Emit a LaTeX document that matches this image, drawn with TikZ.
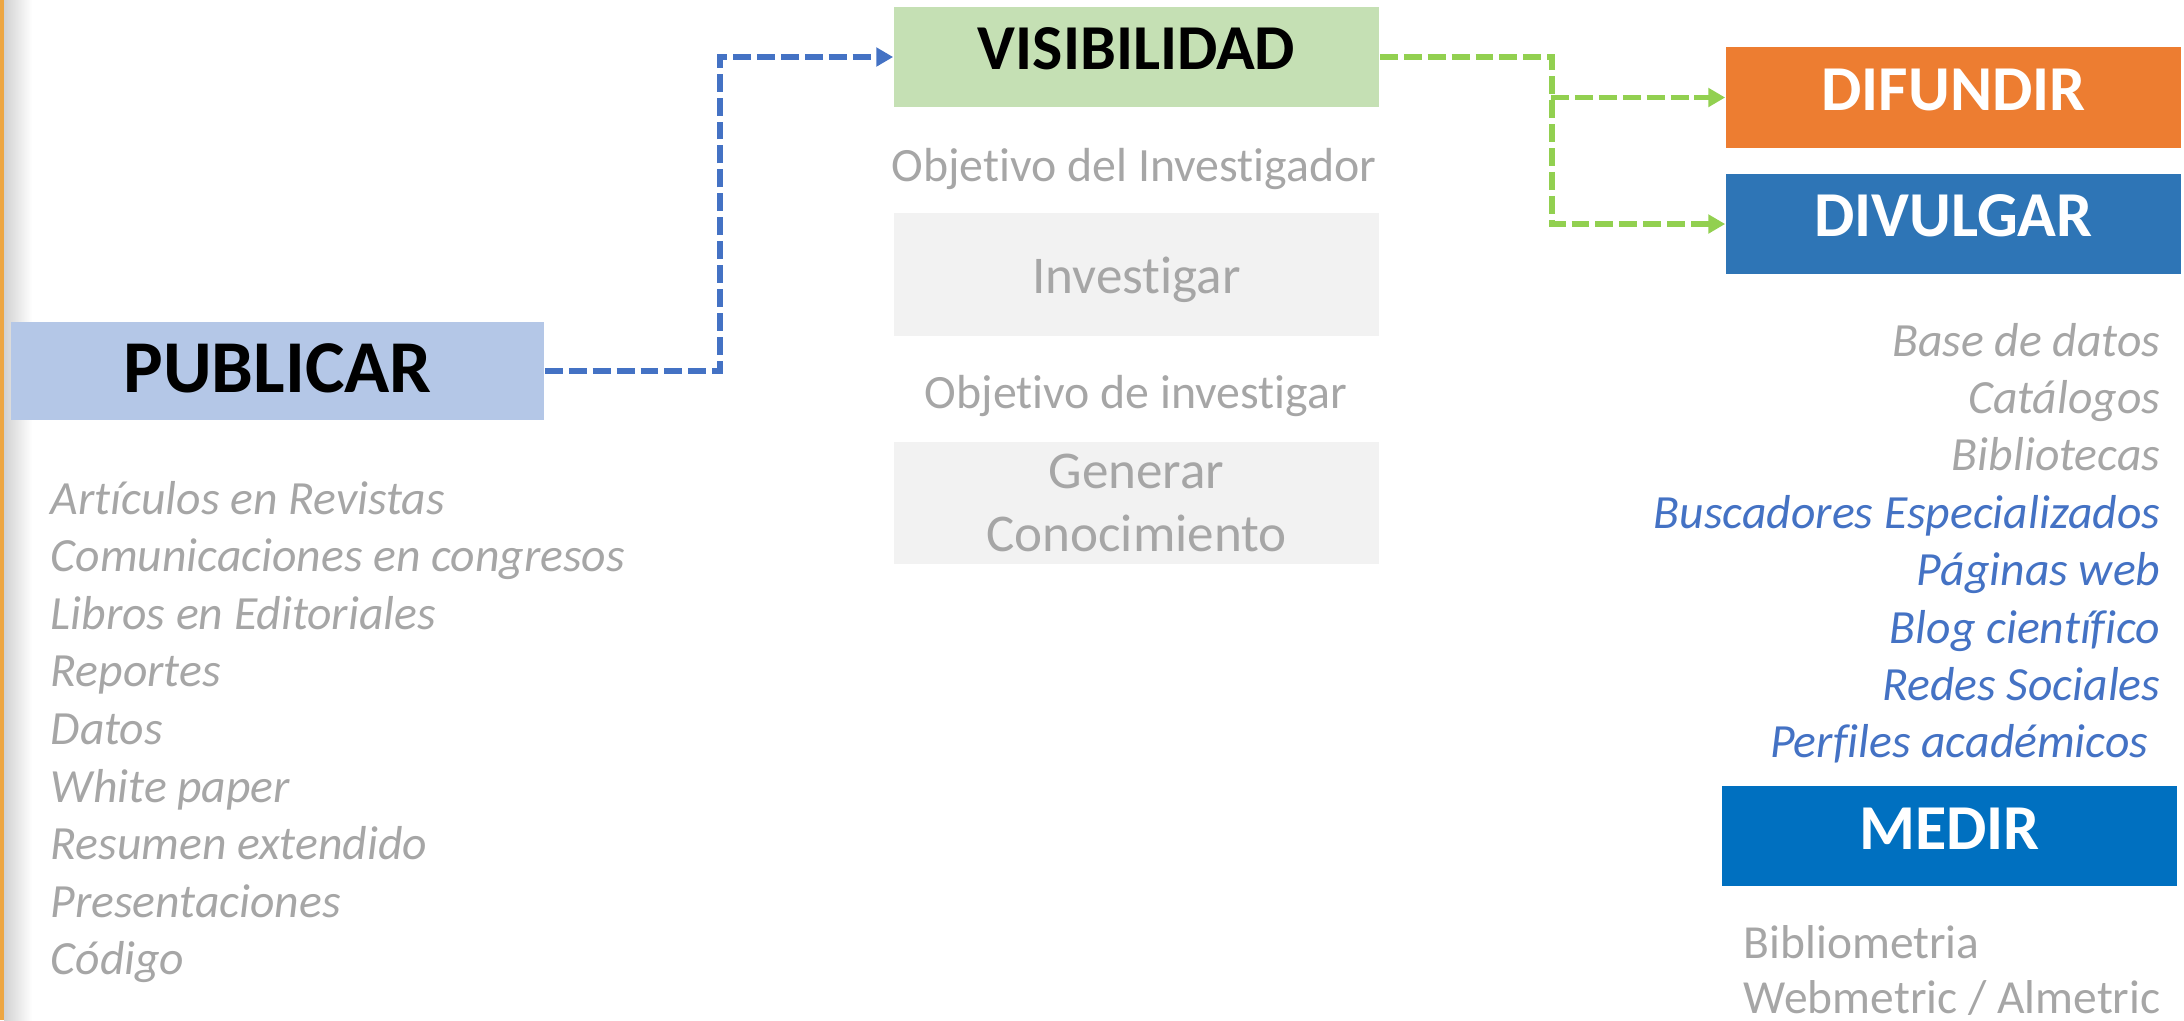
\documentclass[tikz,border=0pt]{standalone}
\usepackage{fontspec}
\setmainfont{Carlito}[Ligatures=NoCommon]
\usetikzlibrary{arrows.meta}
\definecolor{pubfill}{HTML}{B4C7E7}
\definecolor{visfill}{HTML}{C5E0B4}
\definecolor{lightbox}{HTML}{F2F2F2}
\definecolor{txtgray}{HTML}{A6A6A6}
\definecolor{difcol}{HTML}{ED7D31}
\definecolor{divcol}{HTML}{2E75B6}
\definecolor{medcol}{HTML}{0070C0}
\definecolor{bluetxt}{HTML}{4472C4}
\definecolor{bluearr}{HTML}{4472C4}
\definecolor{greenarr}{HTML}{92D050}
\definecolor{edgeorange}{HTML}{EDA642}
\begin{document}
\begin{tikzpicture}[x=0.01cm,y=-0.01cm,
  boxnode/.style={rectangle, inner sep=0pt, draw=none, text depth=0pt},
  bigbold/.style={font=\fontsize{18.2}{21}\selectfont\bfseries},
  conn/.style={line width=1.56pt, dash pattern=on 5.1pt off 1.7pt, line cap=butt,
    -{Triangle[length=4.8pt,width=5.2pt]}},
  leftitem/.style={inner sep=0pt, anchor=base west, text=txtgray,
    font=\fontsize{13.55}{15}\selectfont\itshape},
  rightitem/.style={inner sep=0pt, anchor=base east,
    font=\fontsize{13.55}{15}\selectfont\itshape},
  plaingray/.style={inner sep=0pt, anchor=base, text=txtgray,
    font=\fontsize{13.6}{16}\selectfont},
  metric/.style={inner sep=0pt, anchor=base west, text=txtgray,
    font=\fontsize{13.5}{16}\selectfont}
]
\useasboundingbox (0,0) rectangle (2184,1020);
% left page edge
\shade[left color=black!18, right color=white] (4,0) rectangle (32,1020);
\fill[edgeorange] (0,0) rectangle (4,1020);

% main boxes
\node[boxnode, fill=pubfill, minimum width=5.33cm, minimum height=0.98cm,
  text height=0.42cm, font=\fontsize{21.2}{24}\selectfont\bfseries]
  (pub) at (277.5,371) {PUBLICAR};
\node[boxnode, bigbold, fill=visfill, minimum width=4.85cm, minimum height=1.00cm,
  text height=0.24cm] (vis) at (1136.5,57) {VISIBILIDAD};
\node[boxnode, fill=lightbox, minimum width=4.85cm, minimum height=1.23cm,
  text height=0.37cm, text=txtgray, font=\fontsize{15.1}{18}\selectfont]
  (inv) at (1136.5,274.5) {Investigar};
\node[boxnode, fill=lightbox, minimum width=4.85cm, minimum height=1.22cm]
  (gen) at (1136.5,503) {};
\node[inner sep=0pt, anchor=base, text=txtgray, font=\fontsize{15.1}{18}\selectfont]
  (gen1) at (1136.5,488.5) {Generar};
\node[inner sep=0pt, anchor=base, text=txtgray, font=\fontsize{15.1}{18}\selectfont]
  (gen2) at (1136.5,551.5) {Conocimiento};
\node[plaingray] (obj1) at (1134,181) {Objetivo del Investigador};
\node[plaingray] (obj2) at (1136,408) {Objetivo de investigar};

\node[boxnode, bigbold, fill=difcol, text=white, minimum width=4.55cm,
  minimum height=1.01cm, text height=0.25cm] (dif) at (1953.5,97.5) {DIFUNDIR};
\node[boxnode, bigbold, fill=divcol, text=white, minimum width=4.55cm,
  minimum height=1.00cm, text height=0.24cm] (div) at (1953.5,224) {DIVULGAR};
\node[boxnode, bigbold, fill=medcol, text=white, minimum width=4.55cm,
  minimum height=1.00cm, text height=0.26cm] (med) at (1949.5,836) {MEDIR};

% left list
\node[leftitem] (l1) at (50,514) {Artículos en Revistas};
\node[leftitem] (l2) at (50,571.6) {Comunicaciones en congresos};
\node[leftitem] (l3) at (50,629.2) {Libros en Editoriales};
\node[leftitem] (l4) at (50,686.8) {Reportes};
\node[leftitem] (l5) at (50,744.4) {Datos};
\node[leftitem] (l6) at (50,802) {White paper};
\node[leftitem] (l7) at (50,859.6) {Resumen extendido};
\node[leftitem] (l8) at (50,917.2) {Presentaciones};
\node[leftitem] (l9) at (50,974.8) {Código};

% right list
\node[rightitem, text=txtgray] (r1) at (2161,356) {Base de datos};
\node[rightitem, text=txtgray] (r2) at (2161,413.4) {Catálogos};
\node[rightitem, text=txtgray] (r3) at (2161,470.8) {Bibliotecas};
\node[rightitem, text=bluetxt] (r4) at (2161,528.2) {Buscadores Especializados};
\node[rightitem, text=bluetxt] (r5) at (2161,585.6) {Páginas web};
\node[rightitem, text=bluetxt] (r6) at (2161,643) {Blog científico};
\node[rightitem, text=bluetxt] (r7) at (2161,700.4) {Redes Sociales};
\node[rightitem, text=bluetxt] (r8) at (2149,757.8) {Perfiles académicos};

% metrics
\node[metric] (m1) at (1743,958) {Bibliometria};
\node[metric] (m2) at (1743,1013) {Webmetric / Almetric};

% connectors
\draw[conn, bluearr] (pub.east) -- ++(175,0) |- (vis.west);
\coordinate (gsplit) at (1551,97.5);
\draw[conn, greenarr] (vis.east) -- ++(172,0) |- (div.west);
\draw[conn, greenarr] (gsplit) -- (dif.west);
\end{tikzpicture}
\end{document}
